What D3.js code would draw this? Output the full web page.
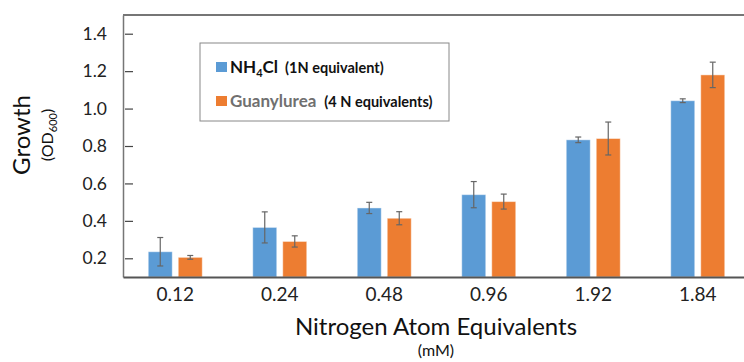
<!DOCTYPE html>
<html>
<head>
<meta charset="utf-8">
<script src="https://cdn.jsdelivr.net/npm/d3@7/dist/d3.min.js"></script>
<style>
  body { margin: 0; background: #fff; }
  svg { display: block; font-family: Lato, "Open Sans", sans-serif; }
</style>
</head>
<body>
<div id="chart"></div>
<script>
// data
const categories = ["0.12", "0.24", "0.48", "0.96", "1.92", "1.84"];
const seriesNames = ["NH4Cl", "Guanylurea"];
const nh4clValues = [0.235, 0.365, 0.469, 0.540, 0.833, 1.042];
const nh4clErrors = [0.076, 0.083, 0.030, 0.070, 0.015, 0.010];
const guanylureaValues = [0.205, 0.290, 0.414, 0.503, 0.840, 1.180];
const guanylureaErrors = [0.010, 0.030, 0.035, 0.040, 0.088, 0.068];
const yTicks = [0.2, 0.4, 0.6, 0.8, 1.0, 1.2, 1.4];

const WIDTH = 744;
const HEIGHT = 362;
const PLOT_LEFT = 123;
const PLOT_RIGHT = 750;
const PLOT_TOP = 15;
const PLOT_BOTTOM = 277;
const COLORS = {NH4Cl: "#5b9bd5", Guanylurea: "#ed7d31"};

const rows = [];
categories.forEach((c, i) => {
    rows.push({cat: c, series: "NH4Cl", value: nh4clValues[i], err: nh4clErrors[i]});
    rows.push({cat: c, series: "Guanylurea", value: guanylureaValues[i], err: guanylureaErrors[i]});
});

const svg = d3.select("#chart")
    .append("svg")
    .attr("width", WIDTH)
    .attr("height", HEIGHT);

// scales
const xScale = d3.scaleBand()
    .domain(categories)
    .range([PLOT_LEFT, PLOT_RIGHT])
    .padding(0);

const groupWidth = 54;
const xInner = d3.scaleBand()
    .domain(seriesNames)
    .range([(xScale.bandwidth() - groupWidth) / 2, (xScale.bandwidth() + groupWidth) / 2])
    .paddingInner(0.2)
    .paddingOuter(0);

const yScale = d3.scaleLinear()
    .domain([0.1, 1.5])
    .range([PLOT_BOTTOM, PLOT_TOP]);

// bars
svg.append("g")
    .selectAll("rect")
    .data(rows)
    .join("rect")
    .attr("x", d => xScale(d.cat) + xInner(d.series))
    .attr("y", d => yScale(d.value))
    .attr("width", xInner.bandwidth())
    .attr("height", d => yScale(0.1) - yScale(d.value))
    .attr("fill", d => COLORS[d.series])
    .attr("stroke", "#fff")
    .attr("stroke-opacity", 0.45)
    .attr("stroke-width", 1);

// error bars
const errG = svg.append("g")
    .attr("stroke", "#666")
    .attr("stroke-width", 1.2);
const cx = d => xScale(d.cat) + xInner(d.series) + xInner.bandwidth() / 2;
errG.selectAll("line.v")
    .data(rows)
    .join("line")
    .attr("class", "v")
    .attr("x1", cx).attr("x2", cx)
    .attr("y1", d => yScale(d.value + d.err))
    .attr("y2", d => yScale(d.value - d.err));
errG.selectAll("line.top")
    .data(rows)
    .join("line")
    .attr("class", "top")
    .attr("x1", d => cx(d) - 3).attr("x2", d => cx(d) + 3)
    .attr("y1", d => yScale(d.value + d.err))
    .attr("y2", d => yScale(d.value + d.err));
errG.selectAll("line.bot")
    .data(rows)
    .join("line")
    .attr("class", "bot")
    .attr("x1", d => cx(d) - 3).attr("x2", d => cx(d) + 3)
    .attr("y1", d => yScale(d.value - d.err))
    .attr("y2", d => yScale(d.value - d.err));

// Y axis, ticks on the inside
const yAxis = svg.append("g")
    .attr("transform", `translate(${PLOT_LEFT},0)`)
    .call(d3.axisRight(yScale)
        .tickValues(yTicks)
        .tickFormat(d3.format(".1f"))
        .tickSizeInner(9)
        .tickSizeOuter(0));
yAxis.select(".domain").attr("stroke", "#767676").attr("stroke-width", 1.5);
yAxis.selectAll(".tick line").attr("stroke", "#444").attr("stroke-width", 1.2).attr("x1", 2).attr("x2", 10);
yAxis.selectAll(".tick text")
    .attr("x", -16)
    .attr("text-anchor", "end")
    .attr("font-size", 17.5)
    .attr("font-family", "Lato, sans-serif")
    .attr("fill", "#222");

// top frame line
svg.append("line")
    .attr("x1", PLOT_LEFT).attr("x2", WIDTH)
    .attr("y1", PLOT_TOP).attr("y2", PLOT_TOP)
    .attr("stroke", "#767676")
    .attr("stroke-width", 2);

// X axis
const xAxis = svg.append("g")
    .attr("transform", `translate(0,${PLOT_BOTTOM})`)
    .call(d3.axisBottom(xScale).tickSize(0).tickSizeOuter(0));
xAxis.select(".domain").attr("stroke", "#555").attr("stroke-width", 2);
xAxis.selectAll(".tick text")
    .attr("y", 11)
    .attr("dy", "0.71em")
    .attr("font-size", 19)
    .attr("font-family", "Lato, sans-serif")
    .attr("fill", "#222");

// axis titles
svg.append("text")
    .attr("x", 436).attr("y", 335)
    .attr("text-anchor", "middle")
    .attr("font-size", 24)
    .attr("fill", "#111")
    .text("Nitrogen Atom Equivalents");
svg.append("text")
    .attr("x", 436).attr("y", 356)
    .attr("text-anchor", "middle")
    .attr("font-size", 16)
    .attr("fill", "#111")
    .text("(mM)");

const yTitle = svg.append("g").attr("transform", "translate(30,135) rotate(-90)");
yTitle.append("text")
    .attr("text-anchor", "middle")
    .attr("font-size", 24)
    .attr("fill", "#111")
    .text("Growth");
const odText = yTitle.append("text")
    .attr("y", 23)
    .attr("text-anchor", "middle")
    .attr("font-size", 16)
    .attr("fill", "#111");
odText.append("tspan").text("(OD");
odText.append("tspan").attr("font-size", 11).attr("dy", 4).text("600");
odText.append("tspan").attr("dy", -4).text(")");

// legend
const legend = svg.append("g").attr("transform", "translate(200,43)");
legend.append("rect")
    .attr("width", 249).attr("height", 78)
    .attr("fill", "#fff")
    .attr("stroke", "#888")
    .attr("stroke-width", 1);

const l1 = legend.append("g").attr("transform", "translate(16,19)");
l1.append("rect").attr("width", 11).attr("height", 10).attr("fill", COLORS.NH4Cl);
const t1 = l1.append("text").attr("x", 14).attr("y", 11)
    .attr("font-weight", "bold").attr("fill", "#111");
t1.append("tspan").attr("font-size", 17).text("NH");
t1.append("tspan").attr("font-size", 11).attr("dy", 4).text("4");
t1.append("tspan").attr("font-size", 17).attr("dy", -4).text("Cl");
t1.append("tspan").attr("font-size", 14.5).attr("dx", 7).text("(1N equivalent)");

const l2 = legend.append("g").attr("transform", "translate(16,53)");
l2.append("rect").attr("width", 11).attr("height", 10).attr("fill", COLORS.Guanylurea);
const t2 = l2.append("text").attr("x", 14).attr("y", 11)
    .attr("font-weight", "bold");
t2.append("tspan").attr("font-size", 17).attr("fill", "#707070").text("Guanylurea");
t2.append("tspan").attr("font-size", 14.5).attr("dx", 8).attr("fill", "#111").text("(4 N equivalents)");
</script>
</body>
</html>
